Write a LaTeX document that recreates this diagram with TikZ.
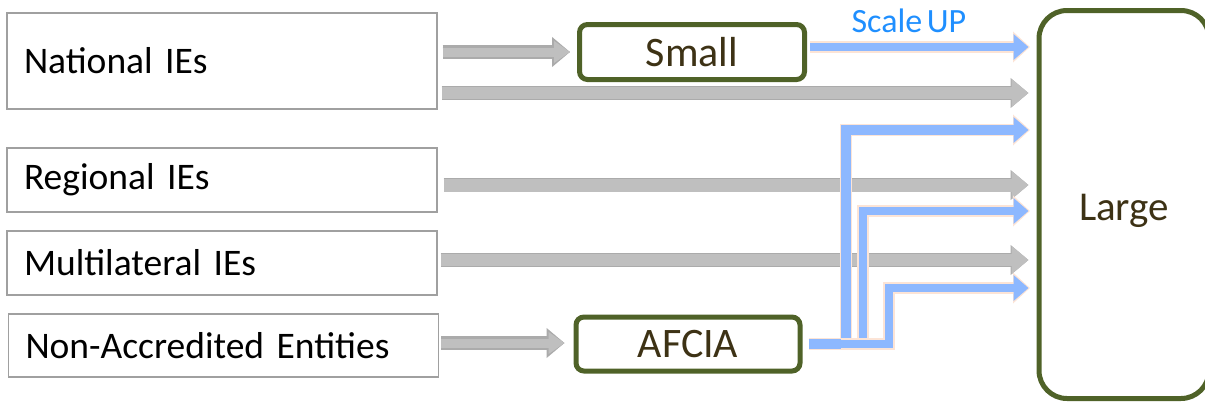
\documentclass[tikz,border=0pt]{standalone}
\usepackage{fontspec}
\setmainfont[WordSpace=0.6]{Carlito}
\usetikzlibrary{positioning,arrows.meta}

\definecolor{tiergreen}{HTML}{4F6228}
\definecolor{tiertext}{HTML}{3D3215}
\definecolor{framegray}{HTML}{A0A0A0}
\definecolor{feedgray}{HTML}{BFBFBF}
\definecolor{feededge}{HTML}{ABABAB}
\definecolor{boostblue}{HTML}{8DB8FF}
\definecolor{boostedge}{HTML}{FCE4D6}
\definecolor{scaleblue}{HTML}{1F8FFF}

\begin{document}
\begin{tikzpicture}[x=1pt, y=-1pt,
    entity/.style={draw=framegray, line width=1.2pt, minimum width=430pt,
      text width=396pt, inner xsep=17pt, align=left,
      font=\fontsize{37.5}{44}\selectfont},
    tier/.style={draw=tiergreen, line width=5pt, rounded corners=8pt,
      text=tiertext, font=\fontsize{42}{48}\selectfont},
    feed/.style={draw=feedgray, line width=12pt,
      -{Triangle[length=17pt,width=27pt]},
      preaction={draw=feededge, line width=13.5pt,
        -{Triangle[length=18pt,width=29pt]}}},
    shortfeed/.style={feed, line width=9pt,
      -{Triangle[length=16pt,width=21pt]},
      preaction={draw=feededge, line width=10.5pt,
        -{Triangle[length=17pt,width=23pt]}}},
    boost/.style={draw=boostblue, line width=9pt, line join=miter,
      -{Triangle[length=15pt,width=25pt]},
      preaction={draw=boostedge, line width=12pt, line join=miter,
        -{Triangle[length=17pt,width=30pt]}, shorten >=-1.5pt}}]
    \useasboundingbox (0,0) rectangle (1205,405);

    % entities on the left
    \node[entity, minimum height=96pt] (national) at (222,61) {National IEs};
    \node[entity, minimum height=64pt] (regional) at (222,180) {Regional IEs};
    \node[entity, minimum height=64pt] (multi) at (222,263) {Multilateral IEs};
    \node[entity, minimum height=63pt] (nonacc) at (223.5,345.5) {Non-Accredited Entities};

    % size tiers
    \node[tier, minimum width=225pt, minimum height=55pt] (small) at (692,52) {Small};
    \node[tier, minimum width=224pt, minimum height=54pt] (afcia) at (688,344) {AFCIA};
    \node[tier, rounded corners=28pt, minimum width=170pt, minimum height=388pt,
      text height=40pt, font=\fontsize{41}{48}\selectfont] (large) at (1124,204.5) {Large};

    \coordinate (inlet) at ([xshift=-8pt]large.west);
    \coordinate (natlow) at (0,93);
    \coordinate (scaleup) at (0,47);
    \coordinate (up1) at (846,130);
    \coordinate (up2) at (863,211);
    \coordinate (up3) at (889,288);

    % direct access
    \draw[shortfeed, shorten <=5pt, shorten >=7pt] (national.east |- small) -- (small.west);
    \draw[feed, shorten <=4pt] (national.east |- natlow) -- (inlet |- natlow);
    \draw[feed, line width=13pt, shorten <=6pt] ([yshift=-5pt]regional.east) -- (inlet |- 0,185);
    \draw[feed, shorten <=3pt] ([yshift=3pt]multi.east) -- (inlet |- 0,260);
    \draw[shortfeed, shorten <=2pt, shorten >=9pt] (nonacc.east |- 0,343) -- (afcia.west |- 0,343);

    % scaling up
    \draw[boost, line width=8pt, shorten <=3pt] (small.east |- scaleup) -- (inlet |- scaleup)
      node[pos=0.46, above=6.5pt, text=scaleblue, font=\fontsize{34}{40}\selectfont] {Scale UP};
    \draw[boost, line width=10pt, shorten <=6pt] (afcia.east) -| (up1) -- (inlet |- up1);
    \draw[boost, line width=8pt, shorten <=38pt] (afcia.east) -| (up2) -- (inlet |- up2);
    \draw[boost, line width=8pt, shorten <=55pt] (afcia.east) -| (up3) -- (inlet |- up3);
\end{tikzpicture}
\end{document}
